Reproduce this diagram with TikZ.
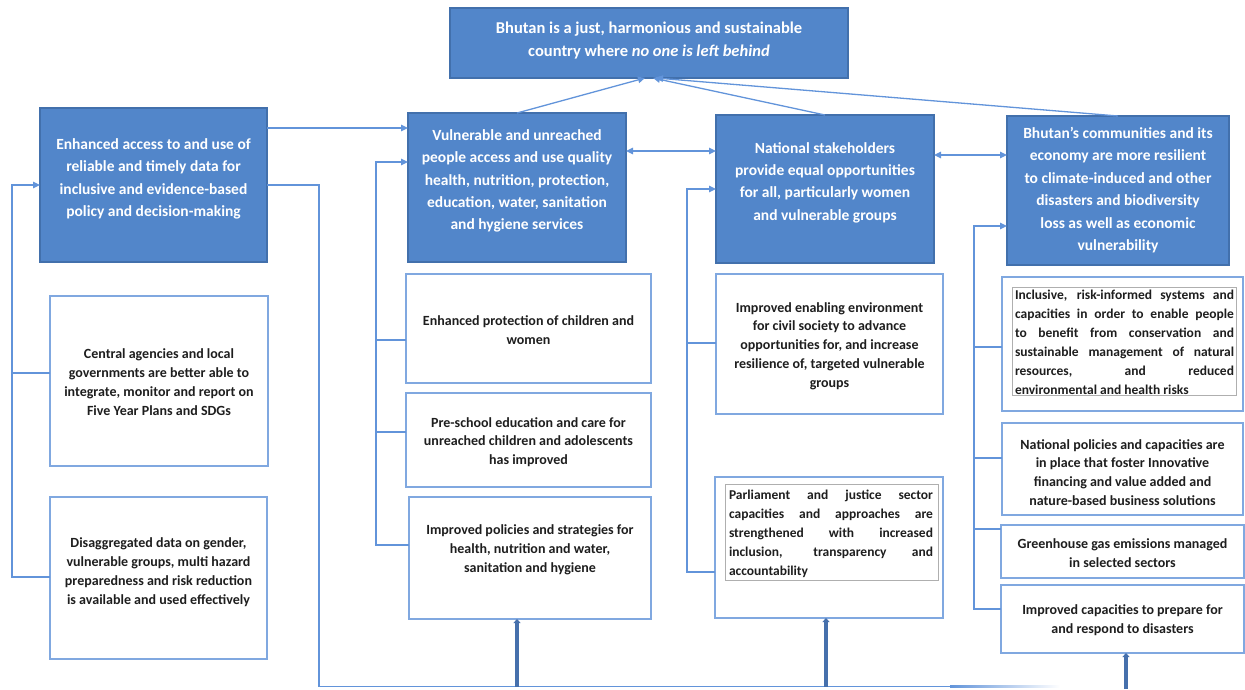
\documentclass[tikz,border=0pt]{standalone}
\usepackage{fontspec}
\setmainfont{Carlito}
\usetikzlibrary{arrows.meta}
\definecolor{boxblue}{RGB}{82,134,202}
\definecolor{boxedge}{RGB}{66,112,172}
\definecolor{lineblue}{RGB}{98,148,218}
\definecolor{wedge}{RGB}{128,168,224}
\definecolor{darkblue}{RGB}{70,112,172}
\definecolor{txtdark}{RGB}{30,30,30}
\definecolor{grayedge}{RGB}{175,175,175}
\tikzset{
  bluebox/.style={draw=boxedge, fill=boxblue, line width=1.2pt, inner sep=0, outer sep=0},
  toptxt/.style={text=white, font=\bfseries\fontsize{16.5}{23}\selectfont, align=center, inner sep=0},
  bluetxt/.style={text=white, font=\bfseries\fontsize{15.5}{22.4}\selectfont, align=center, inner sep=0},
  whitebox/.style={draw=wedge, fill=white, line width=1.6pt, inner sep=0, outer sep=0},
  innerbox/.style={draw=grayedge, fill=white, line width=0.8pt, inner sep=0, outer sep=0},
  wtxt/.style={text=txtdark, font=\bfseries\fontsize{14}{18.8}\selectfont, align=center, inner sep=0},
  jtxt/.style={text=txtdark, font=\bfseries\fontsize{13.5}{19}\selectfont, align=justify, inner sep=0},
  conn/.style={draw=lineblue, line width=1.3pt},
  arr/.style={-{Triangle[length=7pt,width=6.5pt]}},
  arrtwo/.style={{Triangle[length=7pt,width=6.5pt]}-{Triangle[length=7pt,width=6.5pt]}},
  thickarr/.style={draw=darkblue, line width=3.2pt, -{Triangle[length=4pt,width=7pt]}}
}
\begin{document}
\begin{tikzpicture}[x=1pt,y=-1pt]
\useasboundingbox (0,0) rectangle (1245,689);

% goal box
\node[bluebox, minimum width=398, minimum height=70] (T) at (649,43) {};
\node[toptxt] (Tt) at (649,41) {Bhutan is a just, harmonious and sustainable\\country where \textit{no one is left behind}};

% outcome boxes
\node[bluebox, minimum width=227, minimum height=154] (A) at (153.5,185) {};
\node[bluetxt] (At) at (153.5,179) {Enhanced access to and use of\\reliable and timely data for\\inclusive and evidence-based\\policy and decision-making};

\node[bluebox, minimum width=218, minimum height=149] (B) at (517,187.5) {};
\node[bluetxt] (Bt) at (517,181) {Vulnerable and unreached\\people access and use quality\\health, nutrition, protection,\\education, water, sanitation\\and hygiene services};

\node[bluebox, minimum width=218, minimum height=148] (C) at (825,189) {};
\node[bluetxt] (Ct) at (825,182.5) {National stakeholders\\provide equal opportunities\\for all, particularly women\\and vulnerable groups};

\node[bluebox, minimum width=222, minimum height=149] (D) at (1118,190.5) {};
\node[bluetxt] (Dt) at (1118,190) {Bhutan’s communities and its\\economy are more resilient\\to climate-induced and other\\disasters and biodiversity\\loss as well as economic\\vulnerability};

% column A outputs
\node[whitebox, minimum width=218, minimum height=170] (A1) at (159,381) {};
\node[wtxt] (A1t) at (159,382) {Central agencies and local\\governments are better able to\\integrate, monitor and report on\\Five Year Plans and SDGs};

\node[whitebox, minimum width=217, minimum height=162] (A2) at (158.5,578) {};
\node[wtxt] (A2t) at (158.5,572) {Disaggregated data on gender,\\vulnerable groups, multi hazard\\preparedness and risk reduction\\is available and used effectively};

% column B outputs
\node[whitebox, minimum width=245, minimum height=109] (B1) at (528.5,328.5) {};
\node[wtxt] (B1t) at (528.5,330) {Enhanced protection of children and\\women};

\node[whitebox, minimum width=245, minimum height=94] (B2) at (528.5,440) {};
\node[wtxt] (B2t) at (528.5,442) {Pre-school education and care for\\unreached children and adolescents\\has improved};

\node[whitebox, minimum width=242, minimum height=122] (B3) at (530,558) {};
\node[wtxt] (B3t) at (530,549.5) {Improved policies and strategies for\\health, nutrition and water,\\sanitation and hygiene};

% column C outputs
\node[whitebox, minimum width=227, minimum height=140] (C1) at (829.5,344) {};
\node[wtxt] (C1t) at (829.5,346) {Improved enabling environment\\for civil society to advance\\opportunities for, and increase\\resilience of, targeted vulnerable\\groups};

\node[whitebox, minimum width=228, minimum height=141] (C2) at (829,547.5) {};
\node[innerbox, minimum width=213, minimum height=96] (C2i) at (831.5,532) {};
\node[jtxt, text width=204] (C2t) at (831,533.5) {Parliament and justice sector\linebreak capacities and approaches are\linebreak strengthened with increased\linebreak inclusion, transparency and\linebreak accountability};

% column D outputs
\node[whitebox, minimum width=241, minimum height=134] (D1) at (1122.5,344) {};
\node[innerbox, minimum width=224, minimum height=108] (D1i) at (1124,341) {};
\node[jtxt, text width=219] (D1t) at (1124.5,342) {Inclusive, risk-informed systems and\linebreak capacities in order to enable people\linebreak to benefit from conservation and\linebreak sustainable management of natural\linebreak resources, and reduced\linebreak environmental and health risks};

\node[whitebox, minimum width=241, minimum height=92] (D2) at (1122.5,469) {};
\node[wtxt] (D2t) at (1122.5,472.5) {National policies and capacities are\\in place that foster Innovative\\financing and value added and\\nature-based business solutions};

\node[whitebox, minimum width=243, minimum height=53] (D3) at (1122.5,551.5) {};
\node[wtxt] (D3t) at (1122.5,553) {Greenhouse gas emissions managed\\in selected sectors};

\node[whitebox, minimum width=243, minimum height=68] (D4) at (1122.5,619) {};
\node[wtxt] (D4t) at (1122.5,620) {Improved capacities to prepare for\\and respond to disasters};

% arrows to goal
\draw[conn, arr] (B.north) -- ([xshift=-4pt]T.south);
\draw[conn, arr] (C.north) -- ([xshift=4pt]T.south);
\draw[conn, arr] (D.north) -- ([xshift=7pt]T.south);

% A to B
\draw[conn, arr] (A.east |- 0,128) -- (B.west |- 0,128);

% double arrows between outcomes
\draw[conn, arrtwo] (B.east |- 0,151) -- (C.west |- 0,151);
\draw[conn, arrtwo] (C.east |- 0,155) -- (D.west |- 0,155);

% column A bus
\draw[conn, arr] (A2.west |- 0,577) -- ++(-38,0) |- (A.west |- 0,185);
\draw[conn] (A1.west |- 0,373) -- ++(-38,0);

% A to bottom bus (fading out to the right)
\draw[conn] (A.east |- 0,185) -| (319,686.5) -- (950,686.5);
\shade[left color=lineblue, right color=white] (950,685.85) rectangle (1060,687.15);

% column B bus
\draw[conn, arr] (B3.west |- 0,545) -- ++(-33,0) |- (B.west |- 0,162);
\draw[conn] (B1.west |- 0,340) -- ++(-30,0);
\draw[conn] (B2.west |- 0,432) -- ++(-30,0);

% column C bus
\draw[conn, arr] (C2.west |- 0,572) -- ++(-28,0) |- (C.west |- 0,189);
\draw[conn] (C1.west |- 0,343) -- ++(-29,0);

% column D bus
\draw[conn, arr] (D4.west |- 0,609) -- ++(-27,0) |- (D.west |- 0,226);
\draw[conn] (D1.west |- 0,347) -- ++(-28,0);
\draw[conn] (D2.west |- 0,458) -- ++(-28,0);
\draw[conn] (D3.west |- 0,529) -- ++(-27,0);

% thick arrows from bottom bus
\draw[thickarr] (517,686.5) -- (B3.south -| 517,0);
\draw[thickarr] (826,686.5) -- (C2.south -| 826,0);
\draw[thickarr] (1126,689) -- (D4.south -| 1126,0);
\end{tikzpicture}
\end{document}
